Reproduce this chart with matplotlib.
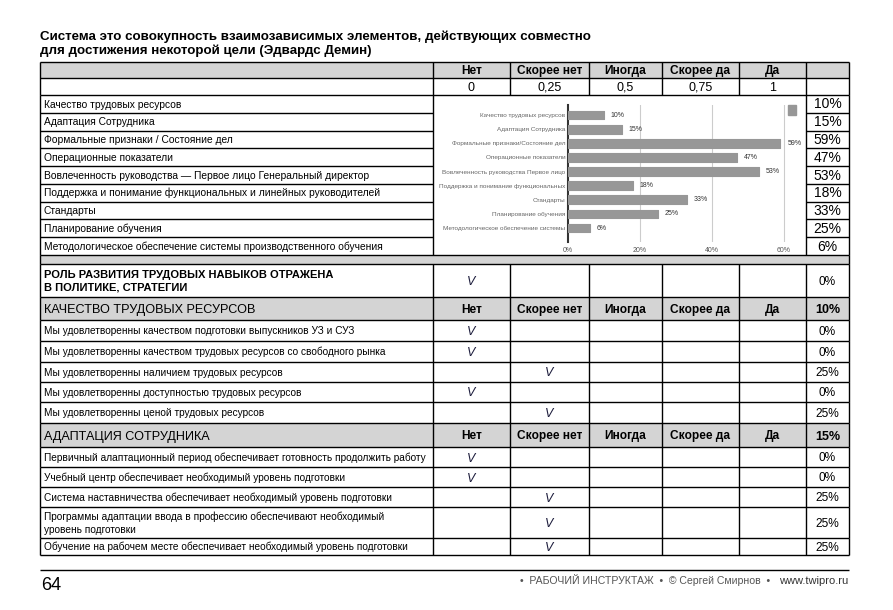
import matplotlib
matplotlib.use("Agg")
import matplotlib.pyplot as plt
from matplotlib.patches import Rectangle, Patch

# ---- data ----
title = ("Система это совокупность взаимозависимых элементов, действующих совместно\n"
         "для достижения некоторой цели (Эдвардс Демин)")
answers = ["Нет", "Скорее нет", "Иногда", "Скорее да", "Да"]
scale_labels = ["0", "0,25", "0,5", "0,75", "1"]

summary_rows = ["Качество трудовых ресурсов",
                "Адаптация Сотрудника",
                "Формальные признаки / Состояние дел",
                "Операционные показатели",
                "Вовлеченность руководства — Первое лицо Генеральный директор",
                "Поддержка и понимание функциональных и линейных руководителей",
                "Стандарты",
                "Планирование обучения",
                "Методологическое обеспечение системы производственного обучения"]
chart_labels = ["Качество трудовых ресурсов",
                "Адаптация Сотрудника",
                "Формальные признаки/Состояние дел",
                "Операционные показатели",
                "Вовлеченность руководства Первое лицо",
                "Поддержка и понимание функциональных",
                "Стандарты",
                "Планирование обучения",
                "Методологическое обеспечение системы"]
summary_pct = [10, 15, 59, 47, 53, 18, 33, 25, 6]

role_label = ["РОЛЬ РАЗВИТИЯ ТРУДОВЫХ НАВЫКОВ ОТРАЖЕНА", "В ПОЛИТИКЕ, СТРАТЕГИИ"]
role_answer = 0
role_pct = 0

quality_title = "КАЧЕСТВО ТРУДОВЫХ РЕСУРСОВ"
quality_total = 10
quality_rows = ["Мы удовлетворенны качеством подготовки выпускников УЗ и СУЗ",
                "Мы удовлетворенны качеством трудовых ресурсов со свободного рынка",
                "Мы удовлетворенны наличием трудовых ресурсов",
                "Мы удовлетворенны доступностью трудовых ресурсов",
                "Мы удовлетворенны ценой трудовых ресурсов"]
quality_answer = [0, 0, 1, 0, 1]
quality_pct = [0, 0, 25, 0, 25]

adapt_title = "АДАПТАЦИЯ СОТРУДНИКА"
adapt_total = 15
adapt_rows = ["Первичный алаптационный период обеспечивает готовность продолжить работу",
              "Учебный центр обеспечивает необходимый уровень подготовки",
              "Система наставничества обеспечивает необходимый уровень подготовки",
              ["Программы адаптации ввода в профессию обеспечивают необходимый",
               "уровень подготовки"],
              "Обучение на рабочем месте обеспечивает необходимый уровень подготовки"]
adapt_answer = [0, 0, 1, 1, 1]
adapt_pct = [0, 0, 25, 25, 25]

page_no = "64"
footer = "•  РАБОЧИЙ ИНСТРУКТАЖ  •  © Сергей Смирнов  •"
footer_url = "www.twipro.ru"

# ---- layout (pixels) ----
W, H = 893, 610
cols = [40, 433, 510, 589, 662, 739, 806, 849]
GRAY = "#d4d4d4"
LW = 1.0
NARROW = ["Liberation Sans Narrow", "Liberation Sans", "DejaVu Sans"]
SANS = ["Liberation Sans", "DejaVu Sans"]

fig = plt.figure(figsize=(W / 100, H / 100), dpi=100, facecolor="white")
ax = fig.add_axes([0, 0, 1, 1])
ax.set_xlim(0, W)
ax.set_ylim(H, 0)
ax.axis("off")


def fill(x0, x1, y0, y1, color=GRAY):
    ax.add_patch(Rectangle((x0, y0), x1 - x0, y1 - y0, facecolor=color,
                           edgecolor="none", zorder=1))


def hline(y, x0=cols[0], x1=cols[-1]):
    ax.plot([x0, x1], [y, y], color="black", lw=LW, zorder=3, solid_capstyle="butt")


def vline(x, y0, y1):
    ax.plot([x, x], [y0, y1], color="black", lw=LW, zorder=3, solid_capstyle="butt")


def txt(x, yc, s, size, ha="left", family=NARROW, **kw):
    # place text so that capital letters are centred on yc
    cap = 0.72 * size * 100 / 72
    ax.text(x, yc + cap / 2, s, fontsize=size, ha=ha, va="baseline",
            family=family, zorder=4, **kw)


def label(x, yc, s, size, step, **kw):
    lines = s if isinstance(s, list) else [s]
    y0 = yc - step * (len(lines) - 1) / 2
    for k, line in enumerate(lines):
        txt(x, y0 + k * step, line, size, **kw)


cx = [(cols[i] + cols[i + 1]) / 2 for i in range(len(cols) - 1)]

# title
txt(40, 35.5, title.split("\n")[0], 9.6, family=SANS, fontweight="bold")
txt(40, 49.5, title.split("\n")[1], 9.6, family=SANS, fontweight="bold")

# header block
y_top, y_h, y_v = 62, 78, 95
fill(cols[0], cols[-1], y_top, y_h)
for i, a in enumerate(answers):
    txt(cx[i + 1], (y_top + y_h) / 2, a, 8.6, ha="center", family=SANS,
        fontweight="bold")
    txt(cx[i + 1], (y_h + y_v) / 2, scale_labels[i], 9, ha="center")
for y in (y_top, y_h, y_v):
    hline(y)
for x in cols:
    vline(x, y_top, y_v)

# summary rows
y_sum_end = 255
rh = (y_sum_end - y_v) / len(summary_rows)
for i, lab in enumerate(summary_rows):
    yc = y_v + rh * (i + 0.5)
    txt(44, yc, lab, 7.4)
    txt(cx[-1], yc - 0.5, f"{summary_pct[i]}%", 10, ha="center")
    if i > 0:
        hline(y_v + rh * i, cols[0], cols[1])
        hline(y_v + rh * i, cols[-2], cols[-1])
for x in (cols[0], cols[1], cols[-2], cols[-1]):
    vline(x, y_v, y_sum_end)

# separator
y_sep = 264
fill(cols[0], cols[-1], y_sum_end, y_sep)
hline(y_sum_end)
hline(y_sep)
vline(cols[0], y_sum_end, y_sep)
vline(cols[-1], y_sum_end, y_sep)


def check_row(y0, y1, answer, pct, lab=None, bold=False):
    yc = (y0 + y1) / 2
    if lab is not None:
        if bold:
            label(44, yc, lab, 8.0, 13, family=SANS, fontweight="bold")
        else:
            label(44, yc, lab, 7.3, 13)
    txt(cx[answer + 1], yc, "V", 9, ha="center", family=SANS, style="italic",
        color="#1c1c3c")
    txt(cx[-1], yc, f"{pct}%", 8.6, ha="center")
    hline(y1)
    for x in cols:
        vline(x, y0, y1)


def section_header(y0, y1, name, total):
    fill(cols[0], cols[-1], y0, y1)
    yc = (y0 + y1) / 2
    txt(44, yc, name, 9.1, family=SANS)
    for i, a in enumerate(answers):
        txt(cx[i + 1], yc, a, 8.6, ha="center", family=SANS, fontweight="bold")
    txt(cx[-1], yc, f"{total}%", 9.0, ha="center", family=SANS, fontweight="bold")
    hline(y1)
    for x in cols:
        vline(x, y0, y1)


# role row
check_row(y_sep, 297, role_answer, role_pct, role_label, bold=True)

# quality section
section_header(297, 320, quality_title, quality_total)
q_edges = [320, 341, 362, 382, 402, 423]
for i, lab in enumerate(quality_rows):
    check_row(q_edges[i], q_edges[i + 1], quality_answer[i], quality_pct[i], lab)

# adaptation section
section_header(423, 447, adapt_title, adapt_total)
a_edges = [447, 467, 487, 507, 538, 555]
for i, lab in enumerate(adapt_rows):
    check_row(a_edges[i], a_edges[i + 1], adapt_answer[i], adapt_pct[i], lab)

# footer
hline(570)
txt(41, 583, page_no, 13, family=SANS)
txt(848, 580, footer_url, 8.0, ha="right", color="#333333")
txt(770, 580, footer, 7.6, ha="right", color="#555555")

# ---- embedded bar chart ----
fill(cols[1] + 0.5, cols[-2] - 0.5, y_v + 0.5, y_sum_end + 1, color="white")
px_per_pct = 3.6
x_max = 66
ax_top, ax_bot, ax_left = 105, 242, 568
bx = fig.add_axes([ax_left / W, 1 - ax_bot / H, x_max * px_per_pct / W,
                   (ax_bot - ax_top) / H])
bx.set_facecolor("none")
ypos = list(range(len(chart_labels)))
bar_col = "#979797"
bars = bx.barh(ypos, summary_pct, height=0.62, color=bar_col, edgecolor=bar_col,
               linewidth=0.8, joinstyle="round", zorder=3)
bx.bar_label(bars, labels=[f"{v}%" for v in summary_pct], padding=5,
             fontsize=5, family=NARROW, color="#333333")
bx.set_xlim(0, x_max)
bx.set_ylim(8.99, -0.71)
bx.set_yticks(ypos)
bx.set_yticklabels(chart_labels, fontsize=4.6, family=NARROW, color="#666666")
bx.set_xticks([0, 20, 40, 60])
bx.set_xticklabels(["0%", "20%", "40%", "60%"], fontsize=5, family=NARROW,
                   color="#555555")
bx.tick_params(length=0, pad=2)
bx.tick_params(axis="x", pad=3.5)
for x in (20, 40, 60):
    bx.axvline(x, color="#cccccc", lw=0.8, zorder=1)
for s in ("top", "right", "bottom"):
    bx.spines[s].set_visible(False)
bx.spines["left"].set_color("#333333")
bx.spines["left"].set_linewidth(1.5)
bx.legend(handles=[Patch(facecolor=bar_col, edgecolor=bar_col)], labels=[""],
          loc="upper right", bbox_to_anchor=(1.0, 1.08), frameon=False,
          handlelength=0.6, handleheight=0.8, handletextpad=0, borderpad=0.2)

fig.savefig("out.png", dpi=100, facecolor="white")
